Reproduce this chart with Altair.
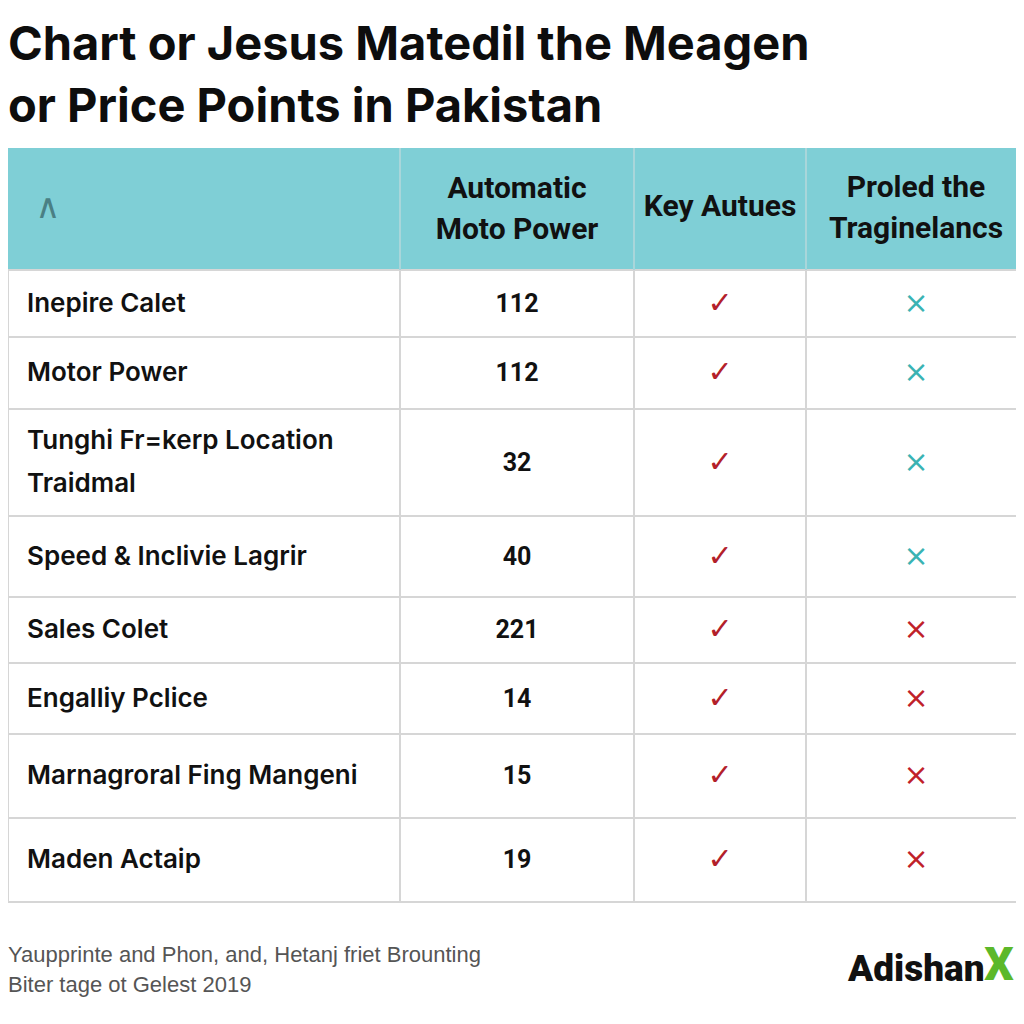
import altair as alt
import pandas as pd

# ---- data ----
title_lines = ["Chart or Jesus Matedil the Meagen", "or Price Points in Pakistan"]
col_headers = ["Automatic\nMoto Power", "Key Autues", "Proled the\nTraginelancs"]
row_labels = [
    "Inepire Calet",
    "Motor Power",
    "Tunghi Fr=kerp Location\nTraidmal",
    "Speed & Inclivie Lagrir",
    "Sales Colet",
    "Engalliy Pclice",
    "Marnagroral Fing Mangeni",
    "Maden Actaip",
]
power_values = [112, 112, 32, 40, 221, 14, 15, 19]
key_marks = ["✓"] * 8
third_marks = ["×"] * 8
third_kind = ["teal", "teal", "teal", "teal", "red", "red", "red", "red"]
footer_lines = ["Yaupprinte and Phon, and, Hetanj friet Brounting", "Biter tage ot Gelest 2019"]
logo_text = "Adishan"

# ---- layout (pixel positions in the 1024 page) ----
row_edges = [270, 337, 409, 516, 597, 663, 734, 818, 902]
col_edges = [8, 400, 634, 806]
header_top, header_bottom = 148, 270
table_left, table_right = 8, 1024
col_centers = [517, 720, 916]
label_line_h = 43
header_line_h = 41

X = alt.Scale(domain=[8, 1016])
Y = alt.Scale(domain=[8, 1016], reverse=True)

def xenc(f="x"):
    return alt.X(f"{f}:Q", scale=X, axis=None)

def yenc(f="y"):
    return alt.Y(f"{f}:Q", scale=Y, axis=None)

# header background
hdr = pd.DataFrame({"x": [table_left], "x2": [table_right], "y": [header_top], "y2": [header_bottom]})
header_rect = alt.Chart(hdr).mark_rect(color="#7fcfd6", clip=True).encode(
    x=xenc(), x2="x2:Q", y=yenc(), y2="y2:Q")

# horizontal grid lines
hl = pd.DataFrame({"y": row_edges, "x": table_left, "x2": table_right})
hlines = alt.Chart(hl).mark_rule(color="#d6d6d6", strokeWidth=2, clip=True).encode(
    x=xenc(), x2="x2:Q", y=yenc())

# vertical grid lines (body)
vl = pd.DataFrame({"x": col_edges, "y": row_edges[0], "y2": row_edges[-1]})
vlines = alt.Chart(vl).mark_rule(color="#d6d6d6", strokeWidth=2, clip=True).encode(
    x=xenc(), y=yenc(), y2="y2:Q")

# vertical separators in header
hv = pd.DataFrame({"x": col_edges[1:], "y": header_top, "y2": header_bottom})
hvlines = alt.Chart(hv).mark_rule(color="#a9d6da", strokeWidth=2, clip=True).encode(
    x=xenc(), y=yenc(), y2="y2:Q")

# title
tt = pd.DataFrame({"t": title_lines, "x": 8, "y": [46, 108]})
title = alt.Chart(tt).mark_text(
    font="Inter", fontWeight="bold", fontSize=47, align="left",
    baseline="middle", color="#0d0d0d").encode(x=xenc(), y=yenc(), text="t:N")

# caret
caret = alt.Chart(pd.DataFrame({"t": ["∧"], "x": [48], "y": [208]})).mark_text(
    font="DejaVu Sans", fontSize=34, color="#4a7f84", baseline="middle").encode(
    x=xenc(), y=yenc(), text="t:N")

# column headers (y is the block's centre)
ch = pd.DataFrame({"t": col_headers, "x": col_centers})
ch["n"] = ch["t"].str.count("\n")
ch["y"] = [209, 207, 208]
ch["y"] = ch["y"] - ch["n"] * header_line_h / 2
colhead = alt.Chart(ch).mark_text(
    font="Roboto", fontWeight="bold", fontSize=30, align="center", baseline="middle",
    lineBreak="\n", lineHeight=header_line_h, color="#111111").encode(
    x=xenc(), y=yenc(), text="t:N")

# body
centers = [(row_edges[i] + row_edges[i + 1]) / 2 for i in range(len(row_labels))]
body = pd.DataFrame({
    "label": row_labels,
    "value": power_values,
    "key": key_marks,
    "third": third_marks,
    "kind": third_kind,
    "y": centers,
})
body["ly"] = body["y"] - body["label"].str.count("\n") * label_line_h / 2
labels = alt.Chart(body).transform_calculate(x="27").mark_text(
    font="Inter", fontWeight=600, fontSize=26, align="left", baseline="middle",
    lineBreak="\n", lineHeight=label_line_h, color="#111111").encode(
    x=xenc(), y=yenc("ly"), text="label:N")
values = alt.Chart(body).transform_calculate(x=str(col_centers[0])).mark_text(
    font="Roboto", fontWeight="bold", fontSize=25, align="center", baseline="middle",
    color="#111111").encode(x=xenc(), y=yenc(), text="value:Q")
checks = alt.Chart(body).transform_calculate(x=str(col_centers[1])).mark_text(
    font="DejaVu Sans", fontSize=30, align="center", baseline="middle",
    color="#b3202a").encode(x=xenc(), y=yenc(), text="key:N")
crosses = alt.Chart(body).transform_calculate(x=str(col_centers[2])).mark_text(
    font="DejaVu Sans", fontSize=30, align="center", baseline="middle").encode(
    x=xenc(), y=yenc(), text="third:N",
    color=alt.Color("kind:N", scale=alt.Scale(domain=["teal", "red"], range=["#3bb3b3", "#c0202a"]), legend=None))

# footer
ft = pd.DataFrame({"t": footer_lines, "x": 8, "y": [955, 985]})
footer = alt.Chart(ft).mark_text(
    font="Liberation Sans", fontSize=22, align="left", baseline="middle", color="#555555").encode(
    x=xenc(), y=yenc(), text="t:N")

logo = alt.Chart(pd.DataFrame({"t": [logo_text], "x": [848], "y": [970]})).mark_text(
    font="Roboto", fontWeight=900, fontSize=37, align="left", baseline="middle",
    color="#111111").encode(x=xenc(), y=yenc(), text="t:N")
logo_x = alt.Chart(pd.DataFrame({"t": ["X"], "x": [999], "y": [966]})).mark_text(
    font="Roboto", fontWeight=900, fontSize=46, align="center", baseline="middle",
    color="#5cb82a").encode(x=xenc(), y=yenc(), text="t:N")

chart = alt.layer(
    header_rect, hlines, vlines, hvlines, title, caret, colhead,
    labels, values, checks, crosses, footer, logo, logo_x
).properties(
    width=1008, height=1008, padding=0, autosize=alt.AutoSizeParams(type="none"),
    background="white"
).configure_view(stroke=None)

chart.save("out.html", embed_options={"renderer": "svg", "actions": False})
